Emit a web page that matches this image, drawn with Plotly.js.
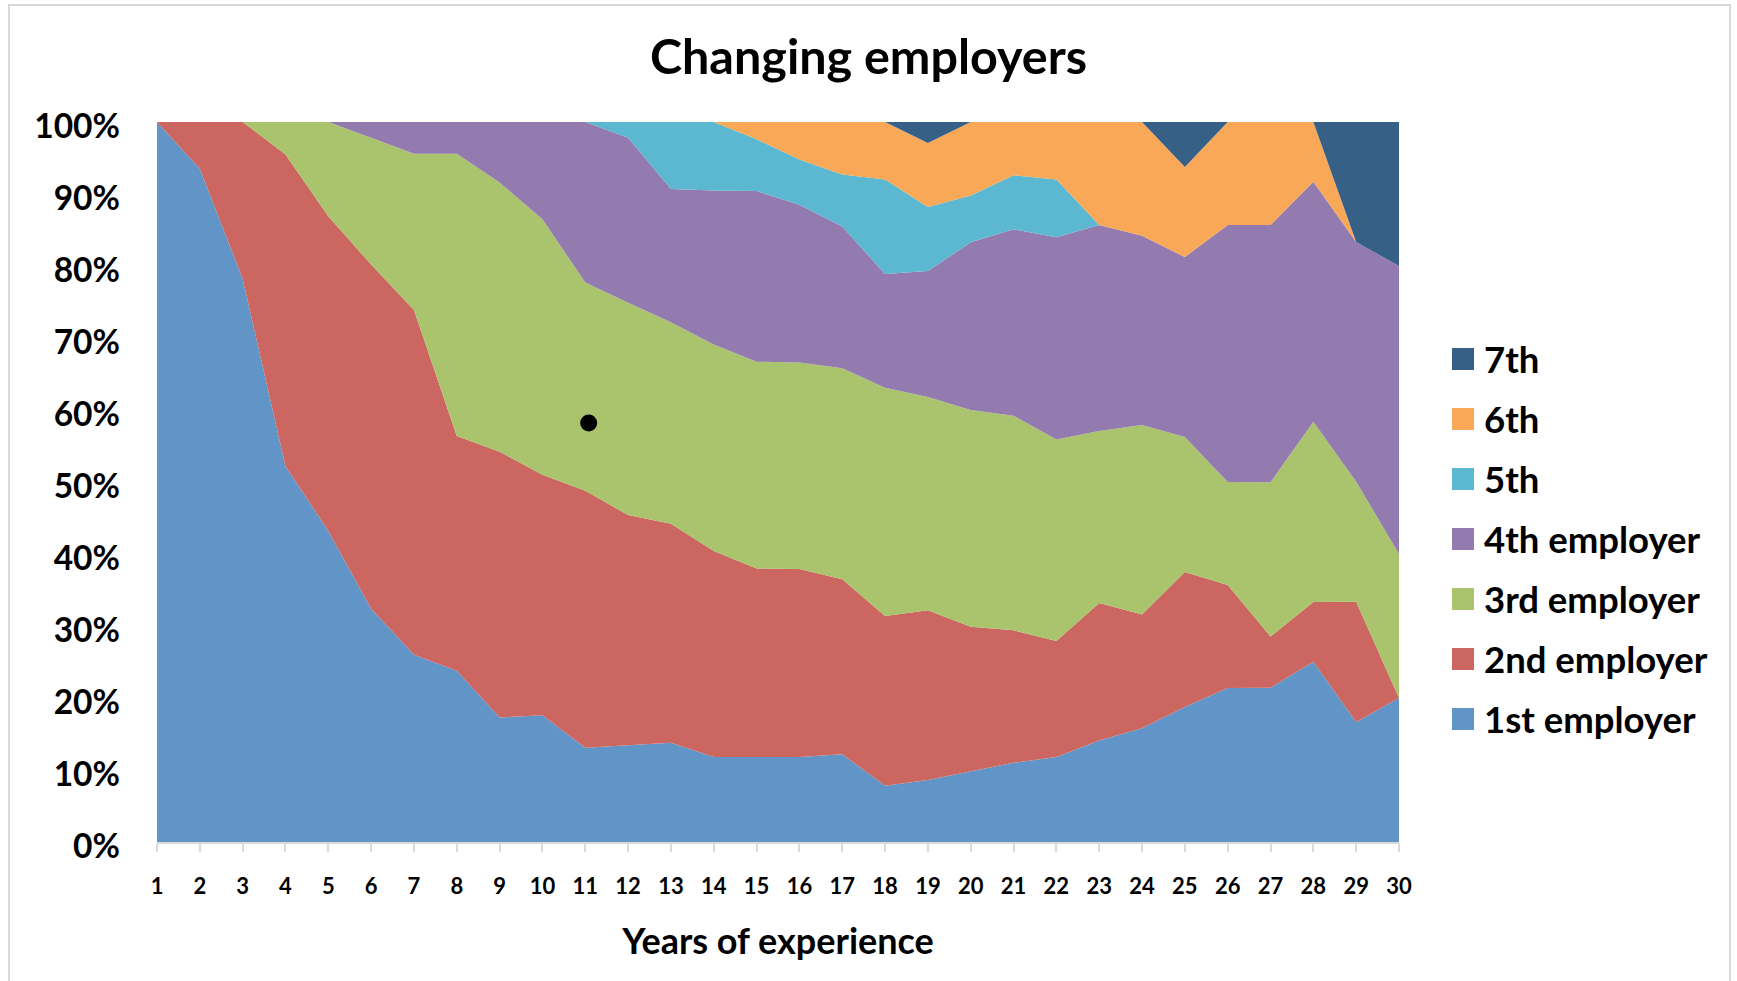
<!DOCTYPE html>
<html>
<head>
<meta charset="utf-8">
<script src="https://cdn.plot.ly/plotly-3.0.1.min.js"></script>
<style>
  html, body { margin: 0; padding: 0; background: #ffffff; }
  #chart { width: 1737px; height: 981px; }
</style>
</head>
<body>
<div id="chart"></div>
<script>
// Years of experience (x categories)
const years = [1,2,3,4,5,6,7,8,9,10,11,12,13,14,15,16,17,18,19,20,21,22,23,24,25,26,27,28,29,30];

// Share of people (%) by employer number, per year of experience
const first  = [100, 93.5, 78.2, 52.2, 43.2, 32.4, 26.0, 23.8, 17.3, 17.6, 13.1, 13.5, 13.8, 11.8, 11.8, 11.8, 12.2, 7.8, 8.6, 9.8, 11.0, 11.8, 14.1, 15.8, 18.75, 21.4, 21.4, 25.0, 16.7, 20.0];
const second = [0, 6.5, 21.8, 43.3, 43.7, 47.8, 47.9, 32.6, 36.9, 33.4, 35.7, 31.9, 30.4, 28.6, 26.2, 26.1, 24.3, 23.6, 23.6, 20.1, 18.4, 16.1, 19.1, 15.8, 18.75, 14.3, 7.1, 8.3, 16.7, 0];
const third  = [0, 0, 0, 4.5, 13.1, 17.6, 21.7, 39.2, 37.4, 35.5, 28.9, 29.5, 28.0, 28.7, 28.7, 28.7, 29.3, 31.7, 29.6, 30.1, 29.8, 28.0, 23.9, 26.3, 18.75, 14.3, 21.4, 25.0, 16.7, 20.0];
const fourth = [0, 0, 0, 0, 0, 2.2, 4.4, 4.4, 8.4, 13.5, 22.3, 22.9, 18.5, 21.4, 23.7, 21.9, 19.7, 15.8, 17.5, 23.3, 25.9, 28.1, 28.6, 26.3, 25.0, 35.7, 35.7, 33.3, 33.3, 40.0];
const fifth  = [0, 0, 0, 0, 0, 0, 0, 0, 0, 0, 0, 2.2, 9.3, 9.5, 7.2, 6.3, 7.2, 13.1, 8.9, 6.5, 7.5, 8.0, 0, 0, 0, 0, 0, 0, 0, 0];
const sixth  = [0, 0, 0, 0, 0, 0, 0, 0, 0, 0, 0, 0, 0, 0, 2.4, 5.2, 7.3, 8.0, 8.9, 10.2, 7.4, 8.0, 14.3, 15.8, 12.5, 14.3, 14.3, 8.3, 0, 0];
const seventh= [0, 0, 0, 0, 0, 0, 0, 0, 0, 0, 0, 0, 0, 0, 0, 0, 0, 0, 2.9, 0, 0, 0, 0, 0, 6.25, 0, 0, 0, 16.7, 20.0];

const seriesNames = ['1st employer', '2nd employer', '3rd employer', '4th employer', '5th', '6th', '7th'];
const seriesValues = [first, second, third, fourth, fifth, sixth, seventh];
const seriesColors = ['#6295C7', '#CC6661', '#A9C46C', '#937BB0', '#5CB8D0', '#F8A857', '#376086'];

// Black marker dot seen on the chart
const dotX = [11.08];
const dotY = [58.2];

const FONT = 'Lato, "Open Sans", sans-serif';

// plot-area geometry (px) used for legend placement
const L = 157, R = 1399, T = 122, B = 842;
const px2x = p => (p - L) / (R - L);
const py2y = p => (B - p) / (B - T);

const traces = seriesNames.map((name, i) => ({
  type: 'scatter',
  x: years,
  y: seriesValues[i],
  name: name,
  mode: 'lines',
  stackgroup: 'one',
  groupnorm: i === 0 ? 'percent' : undefined,
  line: { width: 0, color: seriesColors[i] },
  fillcolor: seriesColors[i],
  showlegend: false,
  hoverinfo: 'x+y+name'
}));

traces.push({
  type: 'scatter',
  x: dotX,
  y: dotY,
  mode: 'markers',
  marker: { size: 17, color: '#000000' },
  showlegend: false,
  hoverinfo: 'skip'
});

// Legend (top to bottom: 7th ... 1st employer)
const shapes = [];
const annotations = [];
const rowTop = 359, rowGap = 60, boxX0 = 1452, box = 22, textX = 1482;
for (let k = 0; k < seriesNames.length; k++) {
  const idx = seriesNames.length - 1 - k;
  const cy = rowTop + k * rowGap;
  shapes.push({
    type: 'rect', xref: 'paper', yref: 'paper',
    x0: px2x(boxX0), x1: px2x(boxX0 + box),
    y0: py2y(cy + box / 2), y1: py2y(cy - box / 2),
    fillcolor: seriesColors[idx], line: { width: 0 }
  });
  annotations.push({
    xref: 'paper', yref: 'paper',
    x: px2x(textX), y: py2y(cy),
    xanchor: 'left', yanchor: 'middle',
    text: seriesNames[idx], showarrow: false,
    font: { family: FONT, size: 36.5, weight: 'bold', color: '#000000' }
  });
}
// outer chart border
shapes.push({
  type: 'rect', xref: 'paper', yref: 'paper',
  x0: px2x(9), x1: px2x(1730), y0: py2y(1000), y1: py2y(5),
  line: { color: '#D9D9D9', width: 2 }, fillcolor: 'rgba(0,0,0,0)', layer: 'below'
});

const layout = {
  width: 1737, height: 981,
  paper_bgcolor: '#ffffff', plot_bgcolor: '#ffffff',
  margin: { l: L, r: 1737 - R, t: T, b: 981 - B, pad: 0 },
  showlegend: false,
  title: {
    text: 'Changing employers',
    xref: 'container', yref: 'container', x: 0.5, y: 1 - 57 / 981,
    xanchor: 'center', yanchor: 'middle',
    font: { family: FONT, size: 48.5, weight: 'bold', color: '#000000' }
  },
  xaxis: {
    range: [1, 30], tickmode: 'array', tickvals: years, ticktext: years.map(String),
    ticks: 'outside', ticklen: 8, tickcolor: '#D9D9D9', tickwidth: 2,
    showline: true, linecolor: '#D9D9D9', linewidth: 2,
    showgrid: false, zeroline: false,
    ticklabelstandoff: 16,
    tickfont: { family: FONT, size: 22, weight: 'bold', color: '#000000' },
    title: { text: 'Years of experience', standoff: 30,
             font: { family: FONT, size: 36, weight: 'bold', color: '#000000' } }
  },
  yaxis: {
    range: [0, 100], dtick: 10, tick0: 0, ticksuffix: '%',
    showgrid: false, zeroline: false, showline: false, ticks: '',
    ticklabelstandoff: 36, ticklabelshift: 4,
    tickfont: { family: FONT, size: 33.5, weight: 'bold', color: '#000000' }
  },
  shapes: shapes,
  annotations: annotations
};

Plotly.newPlot('chart', traces, layout, { displayModeBar: false, staticPlot: true });
</script>
</body>
</html>
